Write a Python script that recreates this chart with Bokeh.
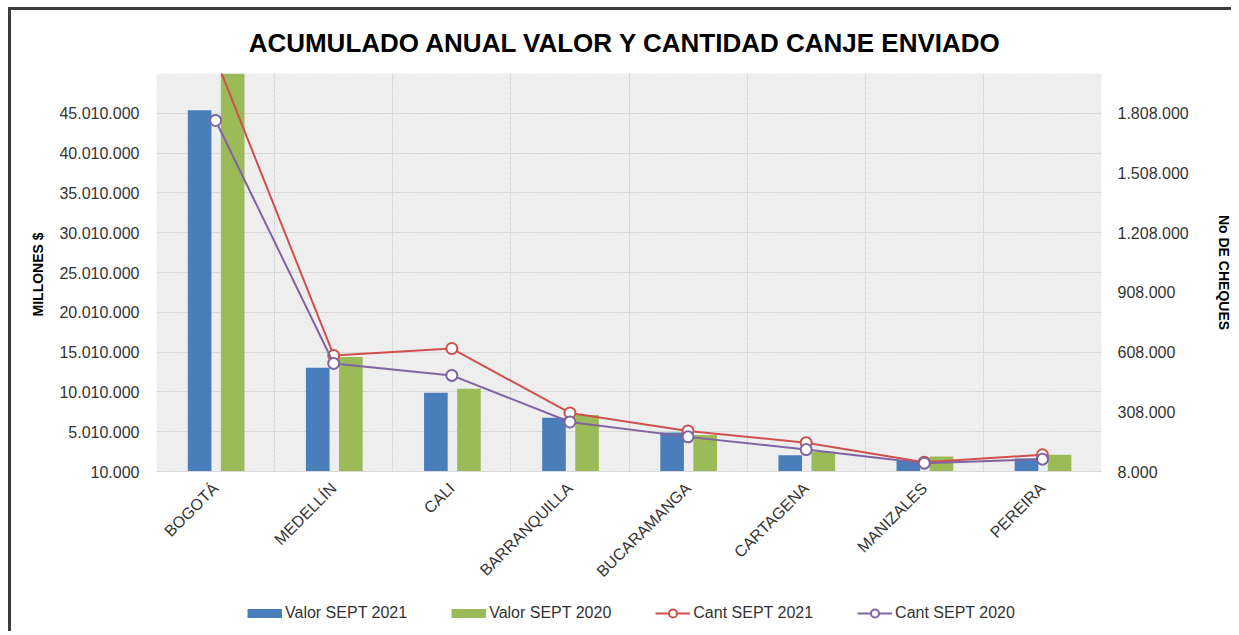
import numpy as np
from bokeh.plotting import figure
from bokeh.layouts import column, row
from bokeh.models import (Range1d, LinearAxis, FixedTicker, CustomJSTickFormatter,
                          Legend, LegendItem, BoxAnnotation, ColumnDataSource, Spacer)
from bokeh.embed import file_html
from bokeh.resources import INLINE

# ---------------- data ----------------
cities = ["BOGOTÁ", "MEDELLÍN", "CALI", "BARRANQUILLA", "BUCARAMANGA",
          "CARTAGENA", "MANIZALES", "PEREIRA"]
valor_2021 = [45400000, 13040000, 9900000, 6770000, 4900000, 2050000, 1400000, 1650000]
valor_2020 = [53000000, 14400000, 10400000, 7100000, 4600000, 2500000, 1900000, 2100000]
cant_2021 = [2085000, 591000, 626000, 302000, 212000, 153000, 55000, 92000]
cant_2020 = [1772000, 551000, 491000, 257000, 182000, 118000, 50000, 70000]
left_ticks = [10000, 5010000, 10010000, 15010000, 20010000, 25010000,
              30010000, 35010000, 40010000, 45010000]
right_ticks = [8000, 308000, 608000, 908000, 1208000, 1508000, 1808000]

title = "ACUMULADO ANUAL  VALOR Y CANTIDAD CANJE ENVIADO"
left_label = "MILLONES  $"
right_label = "No DE CHEQUES"
series_names = ["Valor SEPT 2021", "Valor SEPT 2020", "Cant SEPT 2021", "Cant SEPT 2020"]

BLUE = "#4a7ebb"
GREEN = "#9bbb59"
RED = "#d0504d"
PURPLE = "#8064a2"
FONT = "Liberation Sans"
TXT = "#333333"
BORDER = "3px solid #3c3c3c"

n = len(cities)
centers = np.arange(n) + 0.5
src = ColumnDataSource(dict(x=centers, v21=valor_2021, v20=valor_2020,
                            c21=cant_2021, c20=cant_2020))

W = 1223
p = figure(width=W, height=579, output_backend="svg", toolbar_location=None,
           x_range=Range1d(0, n), y_range=Range1d(10000, 50010000),
           min_border_left=145, min_border_right=126, min_border_top=63,
           min_border_bottom=115)
p.extra_y_ranges = {"cnt": Range1d(8000, 2008000)}
p.styles = {"border-top": BORDER, "border-left": BORDER, "box-sizing": "border-box"}

# title
p.title.text = title
p.title.align = "center"
p.title.vertical_align = "top"
p.title.text_font = FONT
p.title.text_font_size = "26px"
p.title.text_font_style = "bold"
p.title.text_color = "#000000"
p.title.standoff = 27

# background
p.background_fill_color = "#f3f3f3"
p.outline_line_color = None
hatch = BoxAnnotation(fill_alpha=0, line_alpha=0, hatch_pattern="/",
                      hatch_color="#dedede", hatch_scale=5, hatch_weight=0.6,
                      level="image")
p.add_layout(hatch)

# bars
p.vbar(x=src.data["x"] - 0.135, top=valor_2021, bottom=10000, width=0.2,
       color=BLUE, line_color=None)
p.vbar(x=src.data["x"] + 0.145, top=valor_2020, bottom=10000, width=0.2,
       color=GREEN, line_color=None)

# lines
p.line("x", "c21", source=src, y_range_name="cnt", color=RED, line_width=2)
p.scatter("x", "c21", source=src, y_range_name="cnt", size=11,
          fill_color="white", line_color=RED, line_width=2)
p.line("x", "c20", source=src, y_range_name="cnt", color=PURPLE, line_width=2)
p.scatter("x", "c20", source=src, y_range_name="cnt", size=11,
          fill_color="white", line_color=PURPLE, line_width=2)

fmt_code = r"return Math.round(tick).toString().replace(/\B(?=(\d{3})+(?!\d))/g, '.');"

# left axis
ya = p.yaxis[0]
ya.ticker = FixedTicker(ticks=left_ticks)
ya.formatter = CustomJSTickFormatter(code=fmt_code)
ya.axis_label = left_label

# right axis
ra = LinearAxis(y_range_name="cnt", ticker=FixedTicker(ticks=right_ticks),
                formatter=CustomJSTickFormatter(code=fmt_code), axis_label=right_label)
p.add_layout(ra, "right")

for ax in (ya, ra):
    ax.axis_line_color = None
    ax.major_tick_line_color = None
    ax.minor_tick_line_color = None
    ax.major_label_text_font = FONT
    ax.major_label_text_font_size = "16px"
    ax.major_label_text_color = TXT
    ax.axis_label_text_font = FONT
    ax.axis_label_text_font_size = "14px"
    ax.axis_label_text_font_style = "bold"
    ax.axis_label_text_color = "#000000"
ya.major_label_standoff = 11
ya.axis_label_standoff = 10
ra.major_label_standoff = 10
ra.axis_label_standoff = 24

# x axis
xa = p.xaxis[0]
xa.ticker = FixedTicker(ticks=list(centers))
xa.formatter = CustomJSTickFormatter(args=dict(names=cities),
                                     code="return names[Math.floor(tick)];")
xa.major_label_orientation = np.pi / 4
xa.axis_line_color = "#d9d9d9"
xa.major_tick_line_color = None
xa.minor_tick_line_color = None
xa.major_label_text_font = FONT
xa.major_label_text_font_size = "16px"
xa.major_label_text_color = TXT
xa.major_label_standoff = 8

# grids
p.xgrid.ticker = FixedTicker(ticks=list(range(n + 1)))
p.ygrid.ticker = FixedTicker(ticks=left_ticks + [50010000])
for g in (p.xgrid[0], p.ygrid[0]):
    g.grid_line_color = "#d9d9d9"
    g.grid_line_width = 1

# ---------------- legend strip (its own small figure) ----------------
lg = figure(width=W, height=45, output_backend="svg", toolbar_location=None,
            x_axis_location=None, y_axis_location=None,
            x_range=Range1d(0, 1), y_range=Range1d(0, 1),
            min_border_left=0, min_border_right=0, min_border_top=0,
            min_border_bottom=0)
lg.styles = {"border-left": BORDER, "box-sizing": "border-box"}
lg.outline_line_color = None
lg.grid.visible = False
nan_src = ColumnDataSource(dict(x=[np.nan], y=[np.nan]))
r1 = lg.line("x", "y", source=nan_src, color=BLUE, line_width=9)
r2 = lg.line("x", "y", source=nan_src, color=GREEN, line_width=9)
r3 = lg.line("x", "y", source=nan_src, color=RED, line_width=2)
r3b = lg.scatter("x", "y", source=nan_src, size=9, fill_color="white",
                 line_color=RED, line_width=2)
r4 = lg.line("x", "y", source=nan_src, color=PURPLE, line_width=2)
r4b = lg.scatter("x", "y", source=nan_src, size=9, fill_color="white",
                 line_color=PURPLE, line_width=2)

legend = Legend(items=[
    LegendItem(label=series_names[0], renderers=[r1]),
    LegendItem(label=series_names[1], renderers=[r2]),
    LegendItem(label=series_names[2], renderers=[r3, r3b]),
    LegendItem(label=series_names[3], renderers=[r4, r4b]),
], orientation="horizontal", location=(91, 8))
legend.label_text_font = FONT
legend.label_text_font_size = "16px"
legend.label_text_color = TXT
legend.glyph_width = 35
legend.glyph_height = 20
legend.label_standoff = 3
legend.spacing = 44
legend.padding = 4
legend.margin = 0
legend.border_line_color = None
legend.background_fill_alpha = 0
lg.add_layout(legend, "center")

layout = row(Spacer(width=8), column(Spacer(height=7), p, lg))

open("out.html", "w").write(file_html(layout, INLINE))
